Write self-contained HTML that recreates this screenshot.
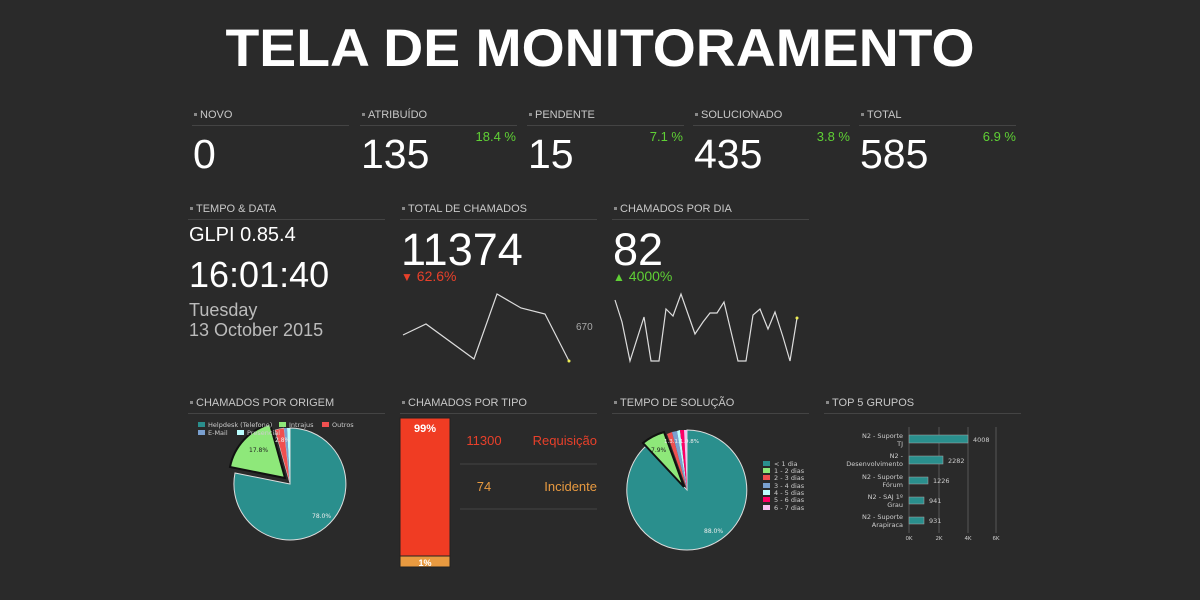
<!DOCTYPE html>
<html><head><meta charset="utf-8"><style>
body{margin:0;width:1200px;height:600px;background:#2a2a2a;overflow:hidden;font-family:"Liberation Sans",sans-serif;position:relative}
.a{position:absolute;white-space:nowrap}
.h{position:absolute;font-size:11px;color:#c8c8c8;border-bottom:1px solid #444;height:17px;line-height:14px}
.h:before{content:"";display:inline-block;width:3px;height:3px;background:#888;margin:0 3px 2px 2px;vertical-align:middle}
.w{color:#fff}
.g{color:#5fd035;font-size:13px}
</style></head><body>
<svg class="a" style="left:0;top:0" width="1200" height="90"><text x="600" y="66" text-anchor="middle" font-family="Liberation Sans" font-weight="bold" font-size="53" fill="#fff" textLength="749" lengthAdjust="spacingAndGlyphs">TELA DE MONITORAMENTO</text></svg>

<div class="h" style="left:192px;top:108px;width:157px">NOVO</div>
<div class="h" style="left:360px;top:108px;width:157px">ATRIBUÍDO</div>
<div class="h" style="left:527px;top:108px;width:157px">PENDENTE</div>
<div class="h" style="left:693px;top:108px;width:157px">SOLUCIONADO</div>
<div class="h" style="left:859px;top:108px;width:157px">TOTAL</div>
<div class="a w" style="left:193px;top:131px;font-size:41px">0</div>
<div class="a w" style="left:361px;top:131px;font-size:41px">135</div>
<div class="a w" style="left:528px;top:131px;font-size:41px">15</div>
<div class="a w" style="left:694px;top:131px;font-size:41px">435</div>
<div class="a w" style="left:860px;top:131px;font-size:41px">585</div>
<div class="a g" style="right:684px;top:129px">18.4 %</div>
<div class="a g" style="right:517px;top:129px">7.1 %</div>
<div class="a g" style="right:350px;top:129px">3.8 %</div>
<div class="a g" style="right:184px;top:129px">6.9 %</div>

<div class="h" style="left:188px;top:202px;width:197px">TEMPO &amp; DATA</div>
<div class="h" style="left:400px;top:202px;width:197px">TOTAL DE CHAMADOS</div>
<div class="h" style="left:612px;top:202px;width:197px">CHAMADOS POR DIA</div>
<div class="a w" style="left:189px;top:224px;font-size:20px">GLPI 0.85.4</div>
<div class="a w" style="left:189px;top:254px;font-size:36px">16:01:40</div>
<div class="a" style="left:189px;top:300px;font-size:18px;color:#bbb;line-height:20px">Tuesday<br>13 October 2015</div>
<div class="a w" style="left:401px;top:224px;font-size:45px">11374</div>
<div class="a" style="left:401px;top:268px;font-size:14px;color:#e8402a"><span style="font-size:12px">▼</span> 62.6%</div>
<div class="a w" style="left:613px;top:224px;font-size:45px">82</div>
<div class="a" style="left:613px;top:268px;font-size:14px;color:#5fd035"><span style="font-size:12px">▲</span> 4000%</div>
<div class="a" style="left:576px;top:322px;font-size:10px;color:#aaa">670</div>
<svg class="a" style="left:0;top:0" width="1200" height="600">
<polyline fill="none" stroke="#ddd" stroke-width="1.2" points="403,335 426,324 474,359 497,294 521,308 545,314 569,361"/>
<circle cx="569" cy="361" r="1.5" fill="#ee5"/>
<polyline fill="none" stroke="#ddd" stroke-width="1.2" points="615,300 622,322 630,361 644,317 651,361 659,361 666,309 673,316 681,294 695,334 703,322 710,313 717,313 724,302 738,361 746,361 753,315 760,309 768,329 775,312 783,337 790,361 797,318"/>
<circle cx="797" cy="318" r="1.5" fill="#ee5"/>

<path d="M290,484 L290,428 A56,56 0 1 1 235,473 Z" fill="#2a8f8d" stroke="#ddd" stroke-width="1"/>
<path d="M285,478 L230,467 A56,56 0 0 1 270,424 Z" fill="#8ee87a" stroke="#111" stroke-width="2"/>
<path d="M290,484 L275,430 A56,56 0 0 1 284,428 Z" fill="#f05050" stroke="#ddd" stroke-width=".5"/>
<path d="M290,484 L284,428 A56,56 0 0 1 287,428 Z" fill="#7aa0d0"/>
<path d="M290,484 L287,428 A56,56 0 0 1 290,428 Z" fill="#bff"/>
<text x="312" y="518" font-size="6" fill="#eee" font-family="DejaVu Sans">78.0%</text>
<text x="249" y="452" font-size="6" fill="#222" font-family="DejaVu Sans">17.8%</text>
<text x="275" y="442" font-size="6" fill="#eee" font-family="DejaVu Sans">2.8%</text>
<g font-size="6.5" fill="#ccc" font-family="DejaVu Sans">
<rect x="198" y="422" width="7" height="5" fill="#2a8f8d"/><text x="208" y="427">Helpdesk (Telefone)</text>
<rect x="279" y="422" width="7" height="5" fill="#8ee87a"/><text x="289" y="427">Intrajus</text>
<rect x="322" y="422" width="7" height="5" fill="#f05050"/><text x="332" y="427">Outros</text>
<rect x="198" y="430" width="7" height="5" fill="#7aa0d0"/><text x="208" y="435">E-Mail</text>
<rect x="237" y="430" width="7" height="5" fill="#bff"/><text x="247" y="435">Presencial</text>
</g>

<rect x="400" y="418" width="50" height="138" fill="#f03c23" stroke="#222"/>
<rect x="400" y="556" width="50" height="11" fill="#e89a40" stroke="#222"/>
<text x="425" y="432" font-size="11" font-weight="bold" fill="#fff" text-anchor="middle">99%</text>
<text x="425" y="566" font-size="9" font-weight="bold" fill="#fff" text-anchor="middle">1%</text>
<line x1="460" y1="464" x2="597" y2="464" stroke="#444"/>
<line x1="460" y1="509" x2="597" y2="509" stroke="#444"/>
<text x="484" y="445" font-size="13" fill="#e8402a" text-anchor="middle">11300</text>
<text x="597" y="445" font-size="13" fill="#e8402a" text-anchor="end">Requisição</text>
<text x="484" y="491" font-size="13" fill="#e89a40" text-anchor="middle">74</text>
<text x="597" y="491" font-size="13" fill="#e89a40" text-anchor="end">Incidente</text>

<path d="M687,490 L687,430 A60,60 0 1 1 646,446 Z" fill="#2a8f8d" stroke="#ddd" stroke-width="1"/>
<path d="M684,487 L643,443 A60,60 0 0 1 664,432 Z" fill="#8ee87a" stroke="#111" stroke-width="2"/>
<path d="M687,490 L667,434 A60,60 0 0 1 672,432 Z" fill="#f05050"/>
<path d="M687,490 L672,432 A60,60 0 0 1 677,431 Z" fill="#7aa0d0"/>
<path d="M687,490 L677,431 A60,60 0 0 1 680,430 Z" fill="#bff"/>
<path d="M687,490 L680,430 A60,60 0 0 1 684,430 Z" fill="#f06"/>
<path d="M687,490 L684,430 A60,60 0 0 1 687,430 Z" fill="#f9c0f0"/>
<text x="704" y="533" font-size="6" fill="#eee" font-family="DejaVu Sans">88.0%</text>
<text x="651" y="452" font-size="6" fill="#222" font-family="DejaVu Sans">7.9%</text>
<text x="664" y="443" font-size="5.5" fill="#eee" font-family="DejaVu Sans">1.3.1.1.0.8%</text>
<g font-size="6.5" fill="#ccc" font-family="DejaVu Sans">
<rect x="763" y="461" width="7" height="5" fill="#2a8f8d"/><text x="774" y="466">&lt; 1 dia</text>
<rect x="763" y="468" width="7" height="5" fill="#8ee87a"/><text x="774" y="473">1 - 2 dias</text>
<rect x="763" y="475" width="7" height="5" fill="#f05050"/><text x="774" y="480">2 - 3 dias</text>
<rect x="763" y="483" width="7" height="5" fill="#7aa0d0"/><text x="774" y="488">3 - 4 dias</text>
<rect x="763" y="490" width="7" height="5" fill="#bff"/><text x="774" y="495">4 - 5 dias</text>
<rect x="763" y="497" width="7" height="5" fill="#f06"/><text x="774" y="502">5 - 6 dias</text>
<rect x="763" y="505" width="7" height="5" fill="#f9c0f0"/><text x="774" y="510">6 - 7 dias</text>
</g>

<g stroke="#555"><line x1="909" y1="427" x2="909" y2="533"/><line x1="939" y1="427" x2="939" y2="533"/><line x1="968" y1="427" x2="968" y2="533"/><line x1="996" y1="427" x2="996" y2="533"/></g>
<g fill="#2a8f8d" stroke="#aaa" stroke-width=".5">
<rect x="909" y="435" width="59" height="8"/><rect x="909" y="456" width="34" height="8"/><rect x="909" y="477" width="19" height="7"/><rect x="909" y="497" width="15" height="7"/><rect x="909" y="517" width="15" height="7"/></g>
<g font-size="6.5" fill="#ccc" font-family="DejaVu Sans">
<text x="973" y="442">4008</text><text x="948" y="463">2282</text><text x="933" y="483">1226</text><text x="929" y="503">941</text><text x="929" y="523">931</text>
<g text-anchor="end"><text x="903" y="438">N2 - Suporte</text><text x="903" y="446">TJ</text>
<text x="903" y="458">N2 -</text><text x="903" y="466">Desenvolvimento</text>
<text x="903" y="479">N2 - Suporte</text><text x="903" y="487">Fórum</text>
<text x="903" y="499">N2 - SAJ 1º</text><text x="903" y="507">Grau</text>
<text x="903" y="519">N2 - Suporte</text><text x="903" y="527">Arapiraca</text></g>
<g text-anchor="middle" font-size="5.5"><text x="909" y="540">0K</text><text x="939" y="540">2K</text><text x="968" y="540">4K</text><text x="996" y="540">6K</text></g>
</g>
</svg>
<div class="h" style="left:188px;top:396px;width:197px">CHAMADOS POR ORIGEM</div>
<div class="h" style="left:400px;top:396px;width:197px">CHAMADOS POR TIPO</div>
<div class="h" style="left:612px;top:396px;width:197px">TEMPO DE SOLUÇÃO</div>
<div class="h" style="left:824px;top:396px;width:197px">TOP 5 GRUPOS</div>
</body></html>
